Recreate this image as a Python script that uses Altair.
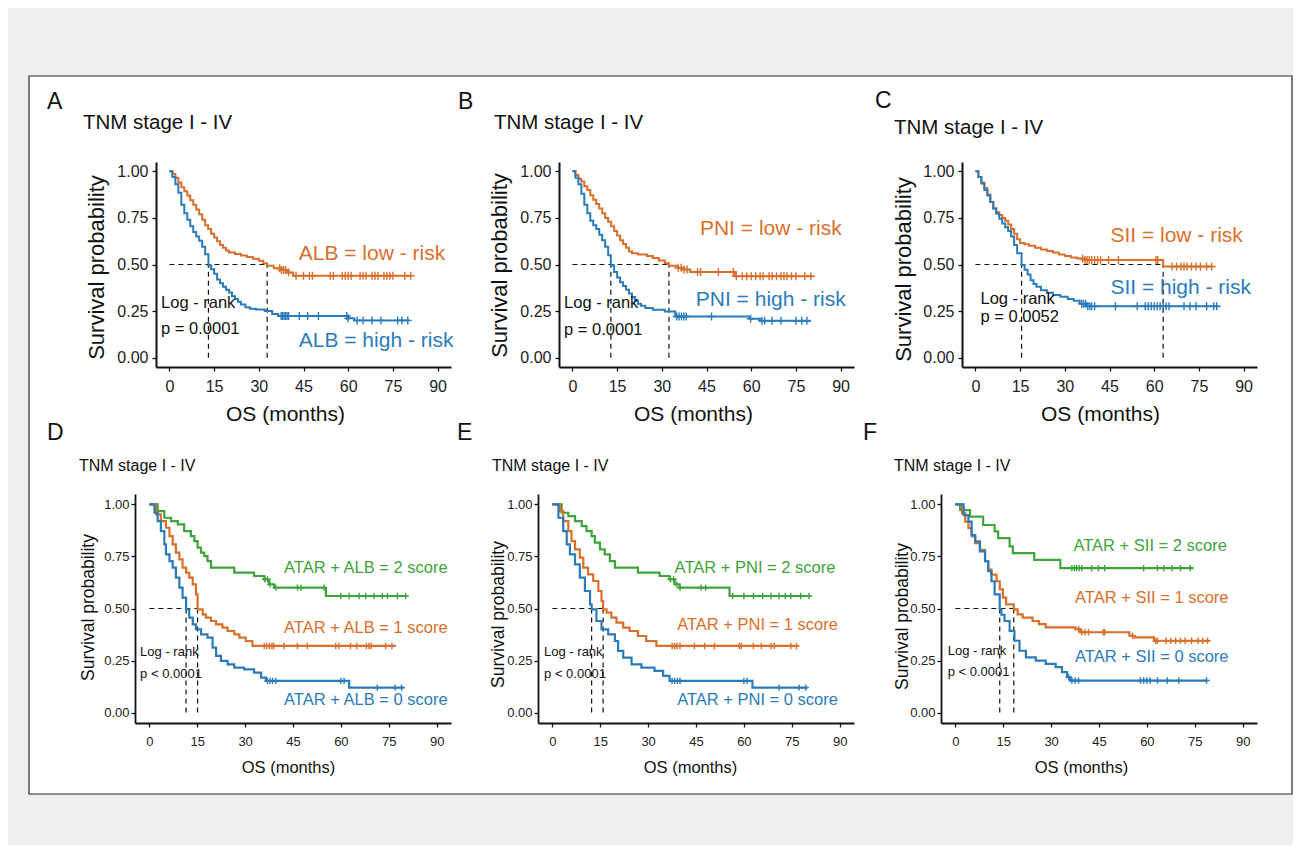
import altair as alt
import pandas as pd

FONT = "Liberation Sans, Arial, Helvetica, sans-serif"

ORANGE = "#DA6F2B"
BLUE = "#2A7BBA"
GREEN = "#3EA43B"

X_TICKS = [0, 15, 30, 45, 60, 75, 90]
Y_TICKS = [0.0, 0.25, 0.5, 0.75, 1.0]

# ---------------- Panel A : ALB ----------------
A_low_t = [0, 1, 2, 3, 4, 5, 6, 7, 8, 9, 10, 11, 12, 13, 14, 15, 16, 17, 18, 19, 20,
           22, 24, 26, 28, 30, 31.5, 32.8, 35, 37.5, 39.5, 41.5]
A_low_s = [1.0, 0.985, 0.965, 0.94, 0.915, 0.893, 0.87, 0.845, 0.82, 0.795, 0.77,
           0.74, 0.71, 0.69, 0.665, 0.645, 0.625, 0.605, 0.59, 0.575, 0.565,
           0.556, 0.548, 0.54, 0.531, 0.52, 0.507, 0.493, 0.48, 0.47, 0.457, 0.44]
A_low_end = 81
A_low_cens = [37, 37.6, 38.3, 39, 40, 42.5, 45, 47, 48, 54, 55, 58, 59, 60, 61, 64, 65, 66,
              68, 69, 70, 72, 73, 74, 75, 79, 81]
A_high_t = [0, 1, 2, 3, 4, 5, 6, 7, 8, 9, 10, 11, 12, 13.1, 14, 15, 16, 17, 18, 19, 20,
            21, 22, 23, 24, 25.5, 27, 29, 32, 34.5, 36.5, 60, 62]
A_high_s = [1.0, 0.97, 0.93, 0.885, 0.82, 0.775, 0.74, 0.705, 0.675, 0.65, 0.628, 0.595,
            0.555, 0.495, 0.475, 0.45, 0.42, 0.4, 0.38, 0.365, 0.35, 0.33, 0.315, 0.3,
            0.285, 0.27, 0.262, 0.258, 0.25, 0.235, 0.224, 0.211, 0.2]
A_high_end = 80.5
A_high_cens = [37.5, 38, 38.5, 39, 39.5, 40, 43.6, 46.4, 50, 59.5, 60, 63, 65, 68, 71, 76.6, 78, 80]

# ---------------- Panel B : PNI ----------------
B_low_t = [0, 1, 2, 3, 4, 5, 6, 7, 8, 9, 10, 11, 12, 13, 14, 15, 16, 17, 18, 19, 20,
           22, 25, 27, 29, 31, 32.4, 35, 37, 39.5, 54.6]
B_low_s = [1.0, 0.98, 0.96, 0.945, 0.92, 0.9, 0.872, 0.848, 0.825, 0.8, 0.775,
           0.75, 0.73, 0.705, 0.68, 0.655, 0.63, 0.61, 0.59, 0.57, 0.56,
           0.553, 0.545, 0.535, 0.522, 0.507, 0.493, 0.482, 0.473, 0.46, 0.437]
B_low_end = 81
B_low_cens = [35.5, 36.5, 37.5, 38.5, 42, 43, 49, 54, 55, 57, 58.5, 60, 61.5, 63, 64, 66, 67,
              68.5, 70, 71, 72, 73.5, 75, 78, 80]
B_high_t = [0, 1, 2, 3, 4, 5, 6, 7, 8, 9, 10, 11, 12, 12.9, 14, 15, 16, 17, 18, 19, 20,
            21, 22, 23, 24.5, 27, 31, 34.5, 59.6, 63]
B_high_s = [1.0, 0.965, 0.93, 0.88, 0.82, 0.775, 0.735, 0.71, 0.69, 0.66, 0.63, 0.595,
            0.55, 0.495, 0.46, 0.43, 0.405, 0.385, 0.365, 0.345, 0.325, 0.305, 0.29,
            0.278, 0.266, 0.257, 0.248, 0.221, 0.209, 0.198]
B_high_end = 80
B_high_cens = [35, 35.8, 36.6, 37.4, 38.2, 46.7, 59.8, 63.6, 64.5, 67, 70, 75, 77, 78.7]

# ---------------- Panel C : SII ----------------
C_low_t = [0, 1, 2, 3, 4, 5, 6, 7, 8, 9, 10, 11, 12, 13, 14, 15, 16.5, 18, 20, 22, 24,
           26, 28, 30, 32, 34, 36.5, 63]
C_low_s = [1.0, 0.97, 0.94, 0.91, 0.875, 0.835, 0.8, 0.78, 0.765, 0.75, 0.735, 0.715,
           0.69, 0.665, 0.635, 0.615, 0.608, 0.6, 0.59, 0.58, 0.572, 0.564, 0.553,
           0.545, 0.538, 0.532, 0.524, 0.489]
C_low_end = 79.8
C_low_cens = [36, 36.8, 37.5, 38.2, 39, 40, 41, 42, 44.7, 48, 60.6, 61.2, 66, 67.5, 69, 70,
              71, 72.5, 74, 75.5, 77.6, 79.3]
C_high_t = [0, 1, 2, 3, 4, 5, 6, 7, 8, 9, 10, 11, 12, 13, 14, 15.5, 16.5, 17.5, 18.5,
            19.5, 20.5, 22, 24, 26, 28.5, 31, 33, 35, 37.5]
C_high_s = [1.0, 0.97, 0.935, 0.9, 0.87, 0.835, 0.8, 0.772, 0.745, 0.72, 0.7, 0.68,
            0.65, 0.605, 0.56, 0.497, 0.472, 0.447, 0.415, 0.395, 0.38, 0.362, 0.348,
            0.337, 0.327, 0.315, 0.305, 0.29, 0.276]
C_high_end = 81.5
C_high_cens = [35.7, 36.3, 37, 37.7, 38.4, 39, 40, 47, 54.3, 57, 58, 59, 60, 61, 62, 63, 64,
               65, 70, 72, 74, 77.6, 80, 81]

# ---------------- Panel D : ATAR + ALB ----------------
D_two_t = [0, 2.6, 4.7, 6.8, 8.9, 10.9, 13.0, 14.1, 15.1, 16.2, 17.2, 18.2, 19.3,
           26.6, 32.8, 36.0, 37.5, 39.1, 55.3]
D_two_s = [1.0, 0.968, 0.936, 0.92, 0.904, 0.872, 0.848, 0.824, 0.792, 0.768, 0.752,
           0.728, 0.696, 0.672, 0.656, 0.64, 0.616, 0.6, 0.56]
D_two_end = 80.8
D_two_cens = [36.2, 37, 37.8, 39.6, 46.4, 47.5, 54.7, 60, 62.6, 65.7, 67.8, 70.4, 73, 74.6,
              77.7, 80.3]
D_one_t = [0, 2.1, 3.6, 5.2, 6.3, 7.3, 8.3, 9.4, 10.4, 11.5, 12.5, 13.6, 14.6, 15.1,
           16.7, 17.7, 19.3, 20.9, 22.9, 24.5, 26.6, 28.2, 30.2, 32.3]
D_one_s = [1.0, 0.952, 0.92, 0.888, 0.848, 0.808, 0.768, 0.736, 0.696, 0.672, 0.648,
           0.616, 0.568, 0.496, 0.472, 0.456, 0.44, 0.424, 0.408, 0.392, 0.376, 0.36,
           0.344, 0.32]
D_one_end = 77.2
D_one_cens = [36, 36.8, 37.6, 38.4, 39, 42.2, 46.4, 49.5, 58.4, 59.4, 63, 65, 68, 68.8,
              69.5, 74, 76]
D_zero_t = [0, 1.6, 2.6, 3.6, 4.7, 5.2, 6.3, 7.3, 8.3, 9.4, 10.4, 11.5, 12.5, 13.6, 14.6,
            16.2, 18.2, 19.8, 20.9, 22.4, 24.5, 26.6, 29.7, 32.8, 35.0, 36.5, 62.6]
D_zero_s = [1.0, 0.96, 0.92, 0.872, 0.808, 0.76, 0.728, 0.696, 0.648, 0.6, 0.552, 0.496,
            0.456, 0.424, 0.4, 0.376, 0.36, 0.312, 0.272, 0.248, 0.232, 0.216, 0.208,
            0.192, 0.168, 0.152, 0.12]
D_zero_end = 79.8
D_zero_cens = [37, 37.8, 38.6, 39.6, 60, 61, 71.4, 77, 79]

# ---------------- Panel E : ATAR + PNI ----------------
E_two_t = [0, 2.9, 5.0, 7.1, 9.2, 10.7, 12.3, 13.3, 14.9, 16.4, 18.0, 19.6, 26.8, 33.6,
           36.7, 38.3, 39.9, 55.5]
E_two_s = [1.0, 0.96, 0.944, 0.92, 0.896, 0.872, 0.848, 0.816, 0.784, 0.76, 0.728,
           0.696, 0.672, 0.656, 0.64, 0.616, 0.6, 0.56]
E_two_end = 80.4
E_two_cens = [37, 38, 39, 40, 46.6, 48, 56.5, 60, 63, 65.9, 68.5, 71, 73, 74.7, 77.8, 80.4]
E_one_t = [0, 2.4, 3.4, 5.0, 6.0, 7.1, 8.6, 9.7, 11.2, 12.8, 14.4, 15.4, 15.9, 17.0, 18.5,
           20.1, 22.2, 24.2, 26.8, 29.4, 32.6]
E_one_s = [1.0, 0.968, 0.92, 0.872, 0.824, 0.784, 0.744, 0.696, 0.664, 0.632, 0.584,
           0.536, 0.496, 0.48, 0.456, 0.432, 0.408, 0.392, 0.368, 0.344, 0.32]
E_one_end = 76.8
E_one_cens = [37.5, 38.3, 39, 40, 44.5, 47.7, 50.8, 58.6, 59.2, 63, 65.5, 68.5, 69.5, 74.7, 76.5]
E_zero_t = [0, 1.9, 3.4, 4.5, 5.5, 7.1, 8.6, 10.2, 11.8, 12.3, 13.8, 15.4, 17.5, 19.6,
            20.6, 22.2, 24.8, 27.9, 32.0, 34.7, 36.7, 62.7]
E_zero_s = [1.0, 0.936, 0.872, 0.808, 0.76, 0.712, 0.648, 0.584, 0.52, 0.496, 0.44, 0.4,
            0.376, 0.344, 0.296, 0.264, 0.232, 0.216, 0.2, 0.176, 0.152, 0.12]
E_zero_end = 80
E_zero_cens = [37.5, 38.3, 39.2, 40, 60, 61, 71, 77.3, 79.4]

# ---------------- Panel F : ATAR + SII ----------------
F_two_t = [0, 1.5, 4.6, 8.7, 12.3, 13.4, 17.0, 18.0, 24.7, 32.9]
F_two_s = [1.0, 0.973, 0.941, 0.901, 0.87, 0.838, 0.798, 0.766, 0.734, 0.694]
F_two_end = 74.6
F_two_cens = [36.5, 37.3, 38, 38.8, 39.6, 42.7, 44.8, 46.8, 59, 63.3, 65.3, 67.9, 70.5, 73.6]
F_one_t = [0, 2.1, 3.1, 4.1, 5.1, 6.2, 7.7, 9.3, 10.3, 11.3, 12.9, 13.9, 14.9, 15.9, 18.3,
           19.5, 21.1, 24.2, 26.2, 28.3, 37.6, 39.1, 54.5, 56.1, 62.2]
F_one_s = [1.0, 0.957, 0.917, 0.886, 0.846, 0.814, 0.782, 0.727, 0.687, 0.663, 0.631,
           0.592, 0.552, 0.52, 0.496, 0.472, 0.456, 0.44, 0.425, 0.409, 0.401, 0.386,
           0.369, 0.361, 0.345]
F_one_end = 79.7
F_one_cens = [38.6, 39.6, 40.6, 41.7, 46.3, 46.8, 55.5, 62.8, 63.3, 66, 67.5, 69, 70.5, 72,
              74, 76, 77.5, 79]
F_zero_t = [0, 2.6, 4.1, 5.1, 6.2, 7.7, 9.3, 10.3, 11.3, 12.3, 13.9, 14.4, 15.4, 17.0,
            18.5, 20.1, 22.1, 25.2, 28.3, 31.4, 33.4, 35.0, 36.0]
F_zero_s = [1.0, 0.949, 0.917, 0.853, 0.822, 0.774, 0.727, 0.679, 0.631, 0.568, 0.496,
            0.47, 0.44, 0.393, 0.345, 0.297, 0.265, 0.25, 0.234, 0.218, 0.194, 0.17, 0.154]
F_zero_end = 78.7
F_zero_cens = [35.5, 36.5, 37.5, 38.6, 58, 59, 60, 61, 63.3, 66.4, 70, 78.7]

# median survival times (dashed guide lines) and test texts
MEDIANS = {"A": [13.1, 32.8], "B": [12.9, 32.4], "C": [15.5, 63.0],
           "D": [11.5, 15.1], "E": [12.3, 15.9], "F": [13.9, 18.3]}
PVALUES = {"A": "p = 0.0001", "B": "p = 0.0001", "C": "p = 0.0052",
           "D": "p < 0.0001", "E": "p < 0.0001", "F": "p < 0.0001"}

GROUPS = {
    "A": [("ALB = low - risk", A_low_t, A_low_s, A_low_end, A_low_cens, ORANGE),
          ("ALB = high - risk", A_high_t, A_high_s, A_high_end, A_high_cens, BLUE)],
    "B": [("PNI = low - risk", B_low_t, B_low_s, B_low_end, B_low_cens, ORANGE),
          ("PNI = high - risk", B_high_t, B_high_s, B_high_end, B_high_cens, BLUE)],
    "C": [("SII = low - risk", C_low_t, C_low_s, C_low_end, C_low_cens, ORANGE),
          ("SII = high - risk", C_high_t, C_high_s, C_high_end, C_high_cens, BLUE)],
    "D": [("ATAR + ALB = 2 score", D_two_t, D_two_s, D_two_end, D_two_cens, GREEN),
          ("ATAR + ALB = 1 score", D_one_t, D_one_s, D_one_end, D_one_cens, ORANGE),
          ("ATAR + ALB = 0 score", D_zero_t, D_zero_s, D_zero_end, D_zero_cens, BLUE)],
    "E": [("ATAR + PNI = 2 score", E_two_t, E_two_s, E_two_end, E_two_cens, GREEN),
          ("ATAR + PNI = 1 score", E_one_t, E_one_s, E_one_end, E_one_cens, ORANGE),
          ("ATAR + PNI = 0 score", E_zero_t, E_zero_s, E_zero_end, E_zero_cens, BLUE)],
    "F": [("ATAR + SII = 2 score", F_two_t, F_two_s, F_two_end, F_two_cens, GREEN),
          ("ATAR + SII = 1 score", F_one_t, F_one_s, F_one_end, F_one_cens, ORANGE),
          ("ATAR + SII = 0 score", F_zero_t, F_zero_s, F_zero_end, F_zero_cens, BLUE)],
}

# ---------------- layout / placement (kept apart from the data) ----------------
LAYOUT = {
    "A": dict(row=0, letter=(-88, -53), title=(-52, -33), xt=150, yt=(-60, 105),
              lab=[(43.4, 0.556), (43.4, 0.09)], lr=(-2.8, 0.296, 0.152)),
    "B": dict(row=0, letter=(-80, -53), title=(-44, -33), xt=155, yt=(-60, 103),
              lab=[(42.8, 0.689), (41.4, 0.311)], lr=(-2.8, 0.293, 0.149)),
    "C": dict(row=0, letter=(-66, -54), title=(-47, -28), xt=159, yt=(-59, 107),
              lab=[(45.3, 0.654), (45.3, 0.375)], lr=(1.7, 0.314, 0.218)),
    "D": dict(row=1, letter=(-88, -54), title=(-56, -23), xt=153, yt=(-47, 113),
              lab=[(42.2, 0.696), (42.2, 0.405), (42.2, 0.06)], lr=(-2.9, 0.291, 0.184)),
    "E": dict(row=1, letter=(-81, -54), title=(-46, -23), xt=152, yt=(-40, 120),
              lab=[(38.3, 0.696), (39.1, 0.421), (39.1, 0.06)], lr=(-2.6, 0.291, 0.184)),
    "F": dict(row=1, letter=(-78, -54), title=(-47, -23), xt=140, yt=(-39, 122),
              lab=[(37.0, 0.798), (37.5, 0.552), (37.5, 0.265)], lr=(-2.4, 0.297, 0.194)),
}


def surv_at(t_list, s_list, c):
    idx = max(i for i, tt in enumerate(t_list) if tt <= c)
    return s_list[idx]


def build_panel(key):
    lay = LAYOUT[key]
    top = lay["row"] == 0
    width = 316
    height = 205 if top else 229
    xr = [21, 316] if top else [0, 316]

    xscale = alt.Scale(domain=[-4.5, 94.5], range=xr, nice=False, zero=False)
    yscale = alt.Scale(domain=[-0.05, 1.05], nice=False, zero=False)
    xaxis = alt.Axis(values=X_TICKS, title="OS (months)", grid=False, zindex=1,
                     domainColor="#111", domainWidth=2 if top else 1.8,
                     tickColor="#111", tickWidth=1.3, tickSize=4,
                     labelFont=FONT, labelFontSize=16 if top else 13, labelColor="#222",
                     labelPadding=7 if top else 8, labelFlush=False, labelOverlap=False,
                     titleFont=FONT, titleFontSize=21 if top else 16.5,
                     titleFontWeight="normal", titleColor="#111",
                     titleX=lay["xt"], titleY=53 if top else 49,
                     titleAlign="center", titleBaseline="alphabetic")
    yaxis = alt.Axis(values=Y_TICKS, format=".2f", title="Survival probability", grid=False,
                     zindex=1, offset=-21 if top else 0,
                     domainColor="#111", domainWidth=2 if top else 1.8,
                     tickColor="#111", tickWidth=1.3, tickSize=4,
                     labelFont=FONT, labelFontSize=16 if top else 13, labelColor="#222",
                     labelPadding=4 if top else 2, labelOverlap=False,
                     titleFont=FONT, titleFontSize=22 if top else 17.5,
                     titleFontWeight="normal", titleColor="#111",
                     titleX=lay["yt"][0], titleY=lay["yt"][1],
                     titleAlign="center", titleBaseline="middle")

    def X(f):
        return alt.X(f, scale=xscale, axis=xaxis)

    def Y(f):
        return alt.Y(f, scale=yscale, axis=yaxis)

    groups = GROUPS[key]
    names = [g[0] for g in groups]
    colors = [g[5] for g in groups]
    color = alt.Color("g:N", scale=alt.Scale(domain=names, range=colors), legend=None)

    line_rows, cens_rows, lab_rows = [], [], []
    for (name, t, s, end, cens, _c), (lx, ly) in zip(groups, lay["lab"]):
        for tt, ss in zip(t + [end], s + [s[-1]]):
            line_rows.append({"t": tt, "s": ss, "g": name})
        for c in cens:
            cens_rows.append({"t": c, "s": surv_at(t, s, c), "g": name})
        lab_rows.append({"x": lx, "y": ly, "g": name})

    layers = []
    if key == "A":
        frame = alt.Chart(pd.DataFrame({"k": [0]})).mark_rect(
            fill="white", stroke="#2a2a2a", strokeWidth=1.2
        ).encode(x=alt.value(-106), x2=alt.value(1157), y=alt.value(-86), y2=alt.value(632))
        layers.append(frame)

    med = MEDIANS[key]
    hrule = alt.Chart(pd.DataFrame({"t": [0], "t2": [max(med)], "y": [0.5]})).mark_rule(
        color="#111", strokeDash=[5, 4], strokeWidth=1.2
    ).encode(x=X("t:Q"), x2=alt.X2("t2"), y=Y("y:Q"))
    vrule = alt.Chart(pd.DataFrame({"t": med, "y": [0.0] * len(med), "y2": [0.5] * len(med)})).mark_rule(
        color="#111", strokeDash=[5, 4], strokeWidth=1.2
    ).encode(x=X("t:Q"), y=Y("y:Q"), y2=alt.Y2("y2"))
    layers += [hrule, vrule]

    lines = alt.Chart(pd.DataFrame(line_rows)).mark_line(
        interpolate="step-after", strokeWidth=2 if top else 2.2
    ).encode(x=X("t:Q"), y=Y("s:Q"), color=color)
    censors = alt.Chart(pd.DataFrame(cens_rows)).mark_point(
        shape="M0,-1L0,1M-1,0L1,0", filled=False, size=64 if top else 40,
        strokeWidth=1.4, opacity=1
    ).encode(x=X("t:Q"), y=Y("s:Q"), color=color)
    labels = alt.Chart(pd.DataFrame(lab_rows)).mark_text(
        align="left", baseline="middle", font=FONT, fontSize=21 if top else 16.5
    ).encode(x=X("x:Q"), y=Y("y:Q"), text="g:N", color=color)
    lrx, lry1, lry2 = lay["lr"]
    logrank = alt.Chart(pd.DataFrame({"x": [lrx, lrx], "y": [lry1, lry2],
                                      "txt": ["Log - rank", PVALUES[key]]})).mark_text(
        align="left", baseline="middle", font=FONT, fontSize=16.5 if top else 13, color="#111"
    ).encode(x=X("x:Q"), y=Y("y:Q"), text="txt:N")
    layers += [lines, censors, labels, logrank]

    letter = alt.Chart(pd.DataFrame({"txt": [key]})).mark_text(
        align="left", baseline="alphabetic", font=FONT, fontSize=23, color="#111"
    ).encode(x=alt.value(lay["letter"][0]), y=alt.value(lay["letter"][1]), text="txt:N")
    title = alt.Chart(pd.DataFrame({"txt": ["TNM stage I - IV"]})).mark_text(
        align="left", baseline="alphabetic", font=FONT, fontSize=20.5 if top else 16, color="#111"
    ).encode(x=alt.value(lay["title"][0]), y=alt.value(lay["title"][1]), text="txt:N")
    layers += [letter, title]

    return alt.layer(*layers).properties(width=width, height=height)


panels = [build_panel(k) for k in ["A", "B", "C", "D", "E", "F"]]

chart = alt.concat(
    *panels, columns=3, spacing={"row": 127, "column": 87}, bounds="flush"
).resolve_scale(
    color="independent"
).properties(
    padding={"left": 20, "top": 67, "right": 0, "bottom": 50},
    background="#efefef",
).configure_view(strokeWidth=0)

chart.save("out.html", embed_options={"renderer": "svg", "actions": False})
